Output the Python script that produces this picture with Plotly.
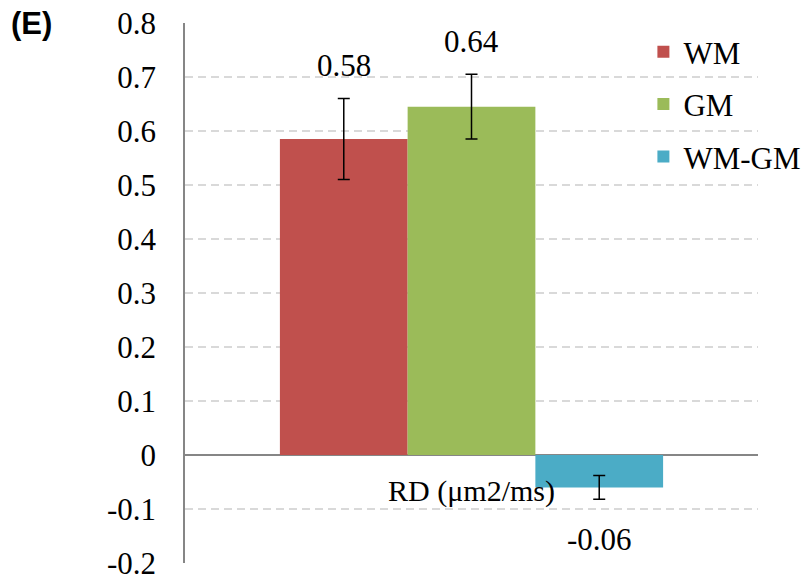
import plotly.graph_objects as go

# ---- data ----
category = "RD (μm2/ms)"
series_names = ["WM", "GM", "WM-GM"]
series_values = [0.585, 0.645, -0.060]
series_errors = [0.075, 0.060, 0.022]
series_labels = ["0.58", "0.64", "-0.06"]
series_colors = ["#C0504D", "#9BBB59", "#4BACC6"]
y_tickvals = [-0.2, -0.1, 0, 0.1, 0.2, 0.3, 0.4, 0.5, 0.6, 0.7, 0.8]
y_ticktext = ["-0.2", "-0.1", "0", "0.1", "0.2", "0.3", "0.4", "0.5", "0.6", "0.7", "0.8"]

FONT = "Liberation Serif"
n = len(series_names)
xpos = [i - (n - 1) / 2 for i in range(n)]

fig = go.Figure()
for i, name in enumerate(series_names):
    fig.add_trace(go.Bar(
        x=[xpos[i]], y=[series_values[i]], width=1.0, name=name,
        legendgroup=name,
        marker=dict(color=series_colors[i], line=dict(width=0)),
        error_y=dict(type="data", array=[series_errors[i]], color="black",
                     thickness=1.5, width=6),
    ))
    v, e = series_values[i], series_errors[i]
    if v >= 0:
        ya, ys = v + e, 33
    else:
        ya, ys = v - e, -40
    fig.add_annotation(x=xpos[i], y=ya, text=series_labels[i], showarrow=False,
                       yanchor="middle", yshift=ys,
                       font=dict(family=FONT, size=31, color="black"))

fig.add_annotation(xref="paper", yref="paper", x=-0.308, y=1.0, text="<b>(E)</b>",
                   showarrow=False, xanchor="left", yanchor="middle",
                   font=dict(family="Liberation Sans", size=31, color="black"))

fig.update_layout(
    width=807, height=582,
    margin=dict(l=185, r=49, t=23, b=19, autoexpand=False),
    plot_bgcolor="white", paper_bgcolor="white",
    font=dict(family=FONT, size=31, color="black"),
    barmode="overlay",
    showlegend=True,
    legend=dict(x=0.80, y=0.996, xanchor="left", yanchor="top",
                bgcolor="rgba(0,0,0,0)", font=dict(family=FONT, size=31),
                tracegroupgap=9, traceorder="grouped"),
)
fig.update_yaxes(
    range=[-0.2, 0.8], tickvals=y_tickvals, ticktext=y_ticktext,
    showgrid=True, gridcolor="#D9D9D9", gridwidth=1.5, griddash="8px,5px",
    zeroline=True, zerolinecolor="#868686", zerolinewidth=2,
    showline=True, linecolor="#868686", linewidth=1.5,
    ticks="", ticklabelstandoff=21, automargin=False,
    tickfont=dict(family=FONT, size=31, color="black"),
)
fig.update_xaxes(
    range=[-2.243, 2.243], tickvals=[0], ticktext=[category],
    showgrid=False, zeroline=False, showline=False, ticks="",
    anchor="free", position=0.2, ticklabelstandoff=15, automargin=False,
    tickfont=dict(family=FONT, size=30, color="black"),
)

fig.write_html("out.html")
